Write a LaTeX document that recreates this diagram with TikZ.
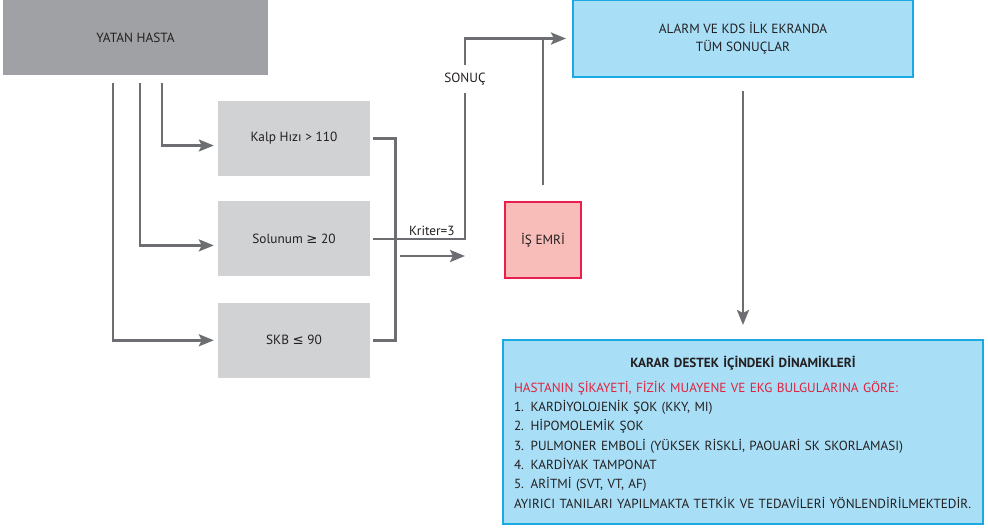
\documentclass[tikz,border=0pt]{standalone}
\usepackage{fontspec}
\setmainfont{PT Sans}
\newfontfamily\simge{DejaVu Sans}
\usetikzlibrary{positioning,arrows.meta,calc}
\definecolor{koyugri}{HTML}{A0A1A4}
\definecolor{acikgri}{HTML}{D1D2D4}
\definecolor{cizgirengi}{HTML}{6D6E71}
\definecolor{mavidolgu}{HTML}{A8DFF7}
\definecolor{mavicizgi}{HTML}{1AA9E1}
\definecolor{pembedolgu}{HTML}{F8BDB8}
\definecolor{pembecizgi}{HTML}{EA1E4E}
\definecolor{kirmiziyazi}{HTML}{E2203B}
\definecolor{yazi}{HTML}{231F20}

\begin{document}
\begin{tikzpicture}[
  x=1pt,y=-1pt,
  font=\fontsize{13.3}{18}\selectfont,
  text=yazi,
  koyu/.style={fill=koyugri,minimum width=265pt,minimum height=75pt,inner sep=0pt},
  kutu/.style={fill=acikgri,minimum width=152pt,minimum height=75pt,inner sep=0pt},
  mavi/.style={fill=mavidolgu,draw=mavicizgi,line width=2pt,align=center,inner sep=0pt},
  pembe/.style={fill=pembedolgu,draw=pembecizgi,line width=2pt,minimum width=76pt,minimum height=76pt,inner sep=0pt},
  etiket/.style={inner sep=2pt},
  cizgi/.style={draw=cizgirengi,line width=2.6pt},
  ok/.style={cizgi,-{Stealth[length=15pt,width=12pt,inset=3pt]}}
]
\useasboundingbox (0,0) rectangle (988,528);

% hasta ve kriter kutulari
\node[koyu] (hasta) at (135.5,37.5) {YATAN HASTA};
\node[kutu] (kalp) at (294,138.5) {Kalp Hızı > 110};
\node[kutu,below=25pt of kalp] (solunum) {Solunum {\simge ≥} 20};
\node[kutu,below=26pt of solunum] (skb) {SKB {\simge ≤} 90};

\node[pembe] (isemri) at (543,240) {İŞ EMRİ};
\node[mavi,minimum width=340pt,minimum height=77pt] (alarm) at (743,38.5) {ALARM VE KDS İLK EKRANDA\\TÜM SONUÇLAR};

\node[mavi,text width=458pt,minimum width=480pt,minimum height=184pt,align=left,
  font=\fontsize{13.2}{19.3}\selectfont] (karar) at (743,432) {%
  \makebox[\linewidth]{\bfseries KARAR DESTEK İÇİNDEKİ DİNAMİKLERİ}\\[6pt]
  \textcolor{kirmiziyazi}{HASTANIN ŞİKAYETİ, FİZİK MUAYENE VE EKG BULGULARINA GÖRE:}\\
  1. KARDİYOLOJENİK ŞOK (KKY, MI)\\
  2. HİPOMOLEMİK ŞOK\\
  3. PULMONER EMBOLİ (YÜKSEK RİSKLİ, PAOUARİ SK SKORLAMASI)\\
  4. KARDİYAK TAMPONAT\\
  5. ARİTMİ (SVT, VT, AF)\\
  AYIRICI TANILARI YAPILMAKTA TETKİK VE TEDAVİLERİ YÖNLENDİRİLMEKTEDİR.};

\coordinate (donus) at (465,40);
\coordinate (ok1) at (400,256);
\coordinate (ok2) at (465,256);
\node[etiket,inner ysep=8pt] (sonuc) at (465,79) {SONUÇ};

% hastadan kriterlere
\draw[ok,shorten <=8pt,shorten >=4pt] ([xshift=26.5pt]hasta.south) |- ([yshift=-7pt]kalp.west);
\draw[ok,shorten <=8pt,shorten >=4pt] ([xshift=4.5pt]hasta.south) |- ([yshift=-6.5pt]solunum.west);
\draw[ok,shorten <=8pt,shorten >=4pt] ([xshift=-22.5pt]hasta.south) |- (skb.west);

% kriterlerin birlesmesi
\draw[cizgi] ([xshift=3pt]kalp.east) -- ++(22,0) |- ([xshift=3pt]skb.east);
\draw[cizgi] ([xshift=3pt]solunum.east) -| node[etiket,above,pos=0.32] {Kriter=3} (sonuc.south);
\draw[ok,shorten >=6pt] (sonuc.north) |- (alarm.west);
\draw[ok] (ok1) -- (ok2);
\draw[cizgi,shorten <=16pt] (isemri.north) -- (isemri.north |- donus);
\draw[ok,shorten <=13pt,shorten >=14pt] (alarm.south) -- (karar.north);
\end{tikzpicture}
\end{document}
